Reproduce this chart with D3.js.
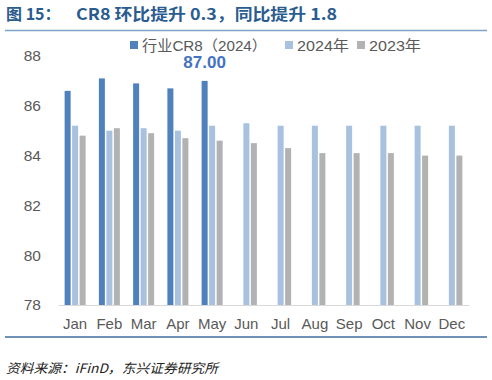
<!DOCTYPE html>
<html><head><meta charset="utf-8">
<script src="https://cdn.jsdelivr.net/npm/d3@7/dist/d3.min.js"></script>
<style>body{margin:0;background:#fff}svg{display:block}</style>
</head><body>
<svg id="c" width="492" height="380"></svg>
<script>
const months = ["Jan","Feb","Mar","Apr","May","Jun","Jul","Aug","Sep","Oct","Nov","Dec"];
const cr8_2024 = [86.6, 87.1, 86.9, 86.7, 87.0, null, null, null, null, null, null, null];
const y2024 = [85.2, 85.0, 85.1, 85.0, 85.2, 85.3, 85.2, 85.2, 85.2, 85.2, 85.2, 85.2];
const y2023 = [84.8, 85.1, 84.9, 84.7, 84.6, 84.5, 84.3, 84.1, 84.1, 84.1, 84.0, 84.0];
const seriesNames = ["行业CR8（2024）", "2024年", "2023年"];
const yTicks = [78, 80, 82, 84, 86, 88];
const labelText = "87.00";
const labelIndex = 4;

const colors = ["#4F81BD", "#A7C1DE", "#B2B2B2"];
const svg = d3.select("#c");
const font = "Arial, 'Liberation Sans', 'Noto Sans CJK SC', sans-serif";
const cjk = "'Noto Sans CJK SC', Arial, sans-serif";

// title
svg.append("text").attr("x", 6).attr("y", 20)
  .attr("font-family", cjk).attr("font-weight", "bold")
  .attr("font-size", 16).attr("fill", "#2A5C8F")
  .text("图 15：");
svg.append("text").attr("x", 76).attr("y", 20)
  .attr("font-family", cjk).attr("font-weight", "bold")
  .attr("font-size", 16).attr("fill", "#2A5C8F")
  .attr("textLength", 261).attr("lengthAdjust", "spacingAndGlyphs")
  .text("CR8 环比提升 0.3，同比提升 1.8");
svg.append("line").attr("x1", 5).attr("x2", 487).attr("y1", 30.5).attr("y2", 30.5)
  .attr("stroke", "#7FA3C8").attr("stroke-width", 1.5);
svg.append("line").attr("x1", 5).attr("x2", 487).attr("y1", 337).attr("y2", 337)
  .attr("stroke", "#3F6E9E").attr("stroke-width", 1.5);

const x = d3.scaleBand().domain(months).range([58, 469]).paddingInner(0).paddingOuter(0);
const y = d3.scaleLinear().domain([78, 88]).range([305, 56]);
const sub = d3.scaleBand().domain([0,1,2]).range([-10.5, 10.5]).paddingInner(0.2);

const data = [cr8_2024, y2024, y2023];
data.forEach((arr, si) => {
  svg.append("g").selectAll("rect").data(months.map((m, i) => ({m, v: arr[i]})).filter(d => d.v != null))
    .join("rect")
    .attr("x", d => x(d.m) + x.bandwidth()/2 + sub(si))
    .attr("width", sub.bandwidth())
    .attr("y", d => y(d.v))
    .attr("height", d => y(78) - y(d.v))
    .attr("fill", colors[si]);
});

// axes
const yAxis = svg.append("g").attr("transform", "translate(41,0)")
  .call(d3.axisLeft(y).tickValues(yTicks).tickSize(0).tickPadding(0).tickFormat(d3.format("d")));
yAxis.select(".domain").remove();
yAxis.selectAll("text").attr("font-family", font).attr("font-size", 15.5).attr("fill", "#595959");

const xAxis = svg.append("g").attr("transform", "translate(0,305)")
  .call(d3.axisBottom(x).tickSize(0).tickPadding(13));
xAxis.select(".domain").attr("stroke", "#D9D9D9").attr("stroke-width", 1.2);
xAxis.selectAll("text").attr("font-family", font).attr("font-size", 15).attr("fill", "#595959");

// data label
svg.append("text")
  .attr("x", x(months[labelIndex]) + x.bandwidth()/2 + sub(0) + sub.bandwidth()/2)
  .attr("y", 68).attr("text-anchor", "middle")
  .attr("font-family", font).attr("font-weight", "bold").attr("font-size", 17)
  .attr("fill", "#4472C4").text(labelText);

// legend
const legX = [130, 285, 357];
const legLen = [125, 52, 52];
const lg = svg.append("g");
seriesNames.forEach((n, i) => {
  lg.append("rect").attr("x", legX[i]).attr("y", 41).attr("width", 8).attr("height", 8).attr("fill", colors[i]);
  lg.append("text").attr("x", legX[i] + 12).attr("y", 50.5)
    .attr("font-family", font).attr("font-size", 14.5).attr("fill", "#595959")
    .attr("textLength", legLen[i]).attr("lengthAdjust", "spacingAndGlyphs").text(n);
});

// footer
svg.append("text").attr("x", 6).attr("y", 373)
  .attr("font-family", cjk).attr("font-style", "italic")
  .attr("font-size", 13).attr("fill", "#222")
  .attr("textLength", 212).attr("lengthAdjust", "spacingAndGlyphs")
  .text("资料来源：iFinD，东兴证券研究所");
</script>
</body></html>
